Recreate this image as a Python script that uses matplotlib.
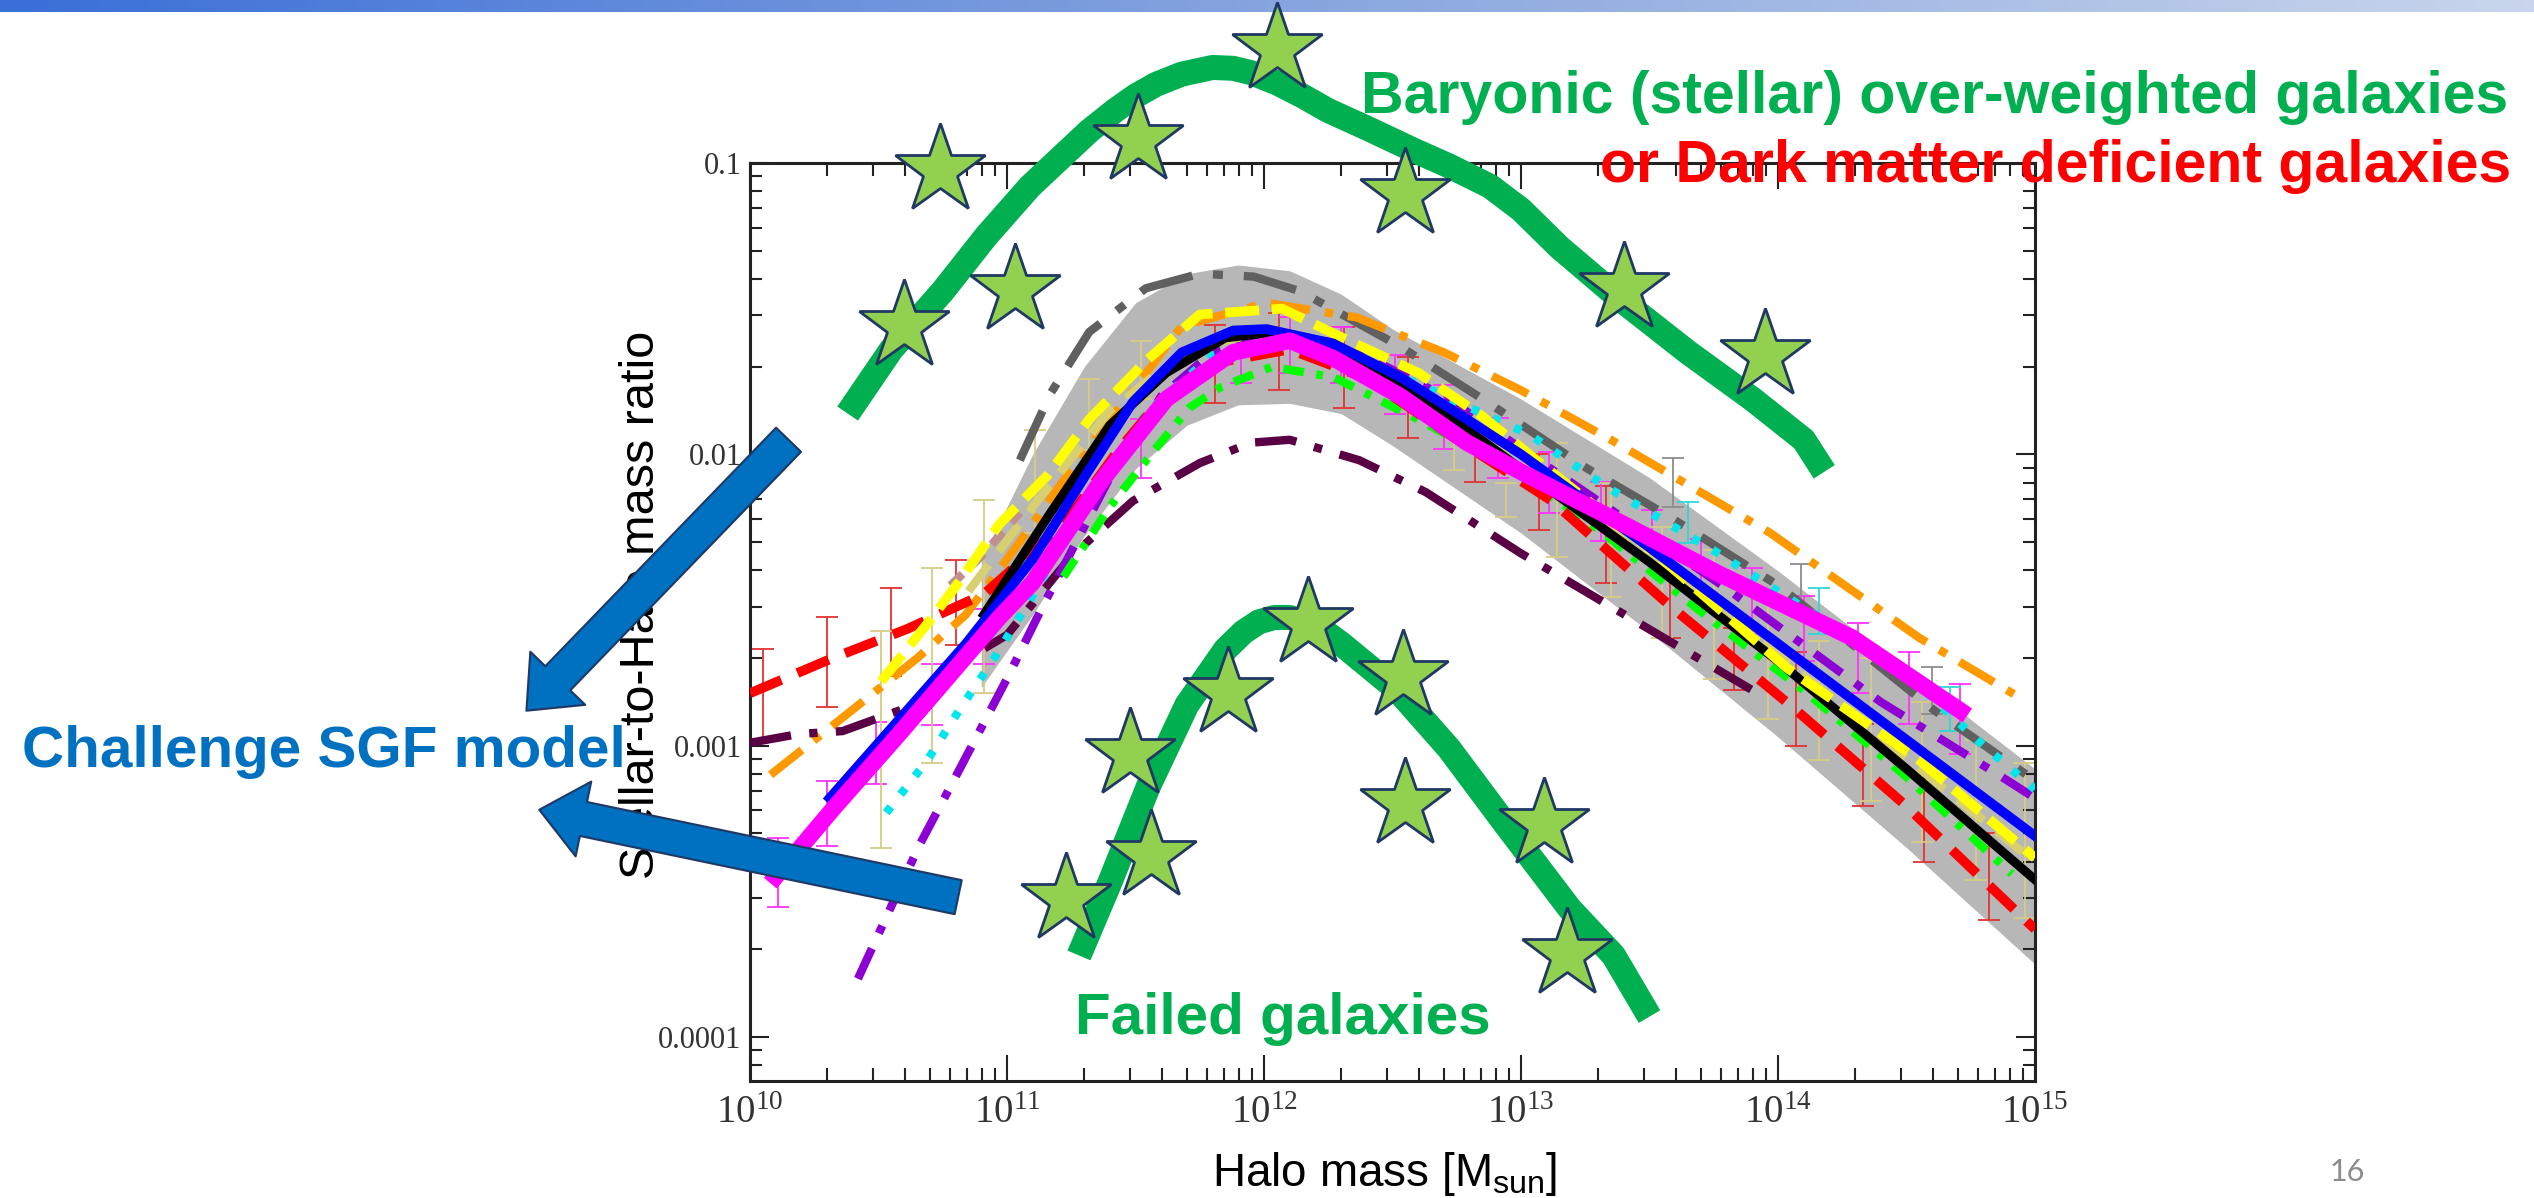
import numpy as np
import matplotlib
matplotlib.use("Agg")
import matplotlib.pyplot as plt
from matplotlib.colors import LinearSegmentedColormap
from matplotlib.ticker import LogLocator, NullFormatter

plt.rcParams['font.family'] = ['Liberation Sans', 'DejaVu Sans']

# all curves: log10(halo mass / Msun) vs log10(stellar-to-halo mass ratio)
band_logm = [10.9, 11.1, 11.3, 11.5, 11.7, 11.9, 12.1, 12.3, 12.5, 12.75, 13.0, 13.5, 14.0, 14.5, 15.0]
band_hi = [-2.36, -2.0, -1.70, -1.48, -1.38, -1.35, -1.37, -1.45, -1.57, -1.69, -1.81, -2.08, -2.40, -2.74, -3.08]
band_lo = [-2.80, -2.55, -2.28, -2.05, -1.90, -1.83, -1.825, -1.86, -1.97, -2.12, -2.27, -2.61, -2.97, -3.35, -3.75]

gray_logm = [11.05, 11.17, 11.32, 11.54, 11.75, 11.96, 12.14, 12.53, 12.85, 13.26, 13.57, 14.0, 14.3, 14.61, 15.0]
gray_logr = [-2.02, -1.79, -1.58, -1.43, -1.38, -1.39, -1.44, -1.63, -1.81, -2.05, -2.21, -2.45, -2.66, -2.88, -3.12]

orange_logm = [10.08, 10.38, 10.65, 10.84, 11.05, 11.26, 11.49, 11.68, 12.01, 12.36, 12.70, 13.0, 13.35, 13.97, 14.55, 14.95]
orange_logr = [-3.10, -2.89, -2.70, -2.55, -2.30, -2.04, -1.78, -1.56, -1.48, -1.53, -1.65, -1.78, -1.95, -2.27, -2.63, -2.84]

yellow_logm = [10.51, 10.70, 10.82, 10.97, 11.16, 11.32, 11.54, 11.75, 12.07, 12.33, 12.6, 12.85, 13.06, 13.55, 14.03, 14.55, 15.0]
yellow_logr = [-2.78, -2.57, -2.43, -2.24, -2.07, -1.88, -1.68, -1.52, -1.50, -1.61, -1.72, -1.87, -2.02, -2.36, -2.73, -3.05, -3.385]

khaki_logm = [10.85, 11.1, 11.4, 11.7, 12.0, 12.4, 12.8, 13.3, 13.8, 14.3, 15.0]
khaki_logr = [-2.47, -2.18, -1.85, -1.64, -1.58, -1.68, -1.90, -2.22, -2.55, -2.90, -3.40]

rosy_logm = [10.78, 10.9, 11.05]
rosy_logr = [-2.45, -2.35, -2.20]

red_logm = [10.0, 10.32, 10.61, 10.91, 11.23, 11.43, 11.6, 11.85, 12.1, 12.4, 12.7, 13.12, 13.58, 14.06, 14.49, 15.0]
red_logr = [-2.82, -2.70, -2.60, -2.48, -2.23, -1.99, -1.81, -1.68, -1.64, -1.74, -1.92, -2.16, -2.52, -2.87, -3.20, -3.63]

black_logm = [10.91, 11.17, 11.4, 11.62, 11.85, 12.05, 12.3, 12.6, 13.0, 13.5, 14.0, 14.5, 15.0]
black_logr = [-2.55, -2.20, -1.90, -1.72, -1.60, -1.58, -1.64, -1.79, -2.05, -2.37, -2.71, -3.08, -3.46]

blue_logm = [10.31, 10.58, 10.84, 11.10, 11.30, 11.49, 11.68, 11.88, 12.01, 12.27, 12.53, 12.79, 13.0, 13.5, 14.0, 14.5, 15.0]
blue_logr = [-3.18, -2.91, -2.65, -2.36, -2.08, -1.82, -1.65, -1.575, -1.57, -1.62, -1.735, -1.88, -2.0, -2.32, -2.65, -2.98, -3.31]

magenta_logm = [10.1, 10.32, 10.58, 10.97, 11.10, 11.36, 11.62, 11.88, 12.10, 12.27, 12.53, 12.79, 13.0, 13.4, 13.77, 14.29, 14.71]
magenta_logr = [-3.45, -3.22, -2.96, -2.56, -2.44, -2.10, -1.81, -1.65, -1.61, -1.67, -1.80, -1.96, -2.06, -2.24, -2.41, -2.63, -2.88]

maroon_logm = [10.0, 10.19, 10.36, 10.61, 10.79, 11.0, 11.25, 11.49, 11.75, 11.95, 12.1, 12.37, 12.63, 13.0, 13.46, 13.92]
maroon_logr = [-2.99, -2.96, -2.95, -2.87, -2.73, -2.62, -2.35, -2.16, -2.03, -1.96, -1.95, -2.02, -2.13, -2.34, -2.58, -2.82]

purple_logm = [10.42, 10.66, 10.81, 11.0, 11.14, 11.4, 11.6, 11.8, 12.0, 12.3, 12.7, 13.2, 13.8, 14.4, 14.84, 15.0]
purple_logr = [-3.80, -3.34, -3.09, -2.77, -2.52, -2.08, -1.80, -1.65, -1.58, -1.62, -1.80, -2.10, -2.46, -2.85, -3.09, -3.18]

cyan_logm = [10.53, 10.69, 10.82, 10.95, 11.09, 11.3, 11.55, 11.8, 12.05, 12.4, 12.8, 13.03, 13.33, 13.75, 14.16, 14.47, 14.8, 15.0]
cyan_logr = [-3.23, -3.05, -2.87, -2.70, -2.50, -2.17, -1.85, -1.66, -1.60, -1.68, -1.84, -1.93, -2.11, -2.33, -2.56, -2.73, -3.0, -3.15]

lime_logm = [11.22, 11.40, 11.56, 11.71, 11.83, 12.03, 12.27, 12.6, 13.0, 13.32, 13.70, 14.1, 14.49, 14.91]
lime_logr = [-2.42, -2.18, -2.0, -1.84, -1.77, -1.70, -1.735, -1.88, -2.07, -2.27, -2.54, -2.81, -3.10, -3.44]

# observational error bars (lower / upper ends)
red_eb_logm = [10.05, 10.30, 10.55, 10.80, 11.81, 12.06, 12.31, 12.56, 12.82, 13.07, 13.33, 13.58, 13.83, 14.07, 14.33, 14.57, 14.82]
red_eb_lo = [-2.983, -2.866, -2.76, -2.656, -1.825, -1.78, -1.84, -1.945, -2.096, -2.26, -2.44, -2.63, -2.81, -3.0, -3.206, -3.40, -3.60]
red_eb_hi = [-2.667, -2.56, -2.46, -2.364, -1.557, -1.515, -1.564, -1.667, -1.918, -2.0, -2.11, -2.40, -2.595, -2.68, -2.925, -3.11, -3.30]

mag_eb_logm = [10.11, 10.30, 10.49, 10.71, 10.91, 11.52, 11.91, 12.10, 12.30, 12.51, 12.70, 12.91, 13.11, 13.31, 13.51, 13.70, 13.90, 14.10, 14.31, 14.51, 14.71]
mag_eb_lo = [-3.553, -3.343, -3.13, -2.93, -2.72, -2.08, -1.756, -1.72, -1.756, -1.86, -1.98, -2.08, -2.2, -2.296, -2.364, -2.467, -2.615, -2.708, -2.82, -2.924, -3.03]
mag_eb_hi = [-3.316, -3.12, -2.92, -2.72, -2.53, -1.88, -1.567, -1.53, -1.564, -1.66, -1.763, -1.876, -1.993, -2.096, -2.19, -2.29, -2.39, -2.485, -2.58, -2.68, -2.787]

khaki_eb_logm = [10.51, 10.71, 10.91, 11.11, 11.32, 11.52, 12.74, 12.94, 13.14, 13.35, 13.55, 13.75, 13.96, 14.16, 14.36, 14.56, 14.77, 14.96]
khaki_eb_lo = [-3.35, -3.06, -2.82, -2.27, -1.986, -1.81, -2.055, -2.216, -2.354, -2.49, -2.63, -2.77, -2.91, -3.05, -3.19, -3.33, -3.46, -3.59]
khaki_eb_hi = [-2.605, -2.39, -2.158, -1.917, -1.74, -1.61, -1.93, -2.10, -1.96, -2.10, -2.25, -2.33, -2.49, -2.64, -2.70, -2.85, -2.98, -3.06]

gray_eb_logm = [13.59, 14.09, 14.6]
gray_eb_lo = [-2.18, -2.56, -2.89]
gray_eb_hi = [-2.014, -2.375, -2.73]

cyan_eb_logm = [13.65, 14.16, 14.67]
cyan_eb_lo = [-2.306, -2.615, -2.95]
cyan_eb_hi = [-2.165, -2.46, -2.80]

# hand-drawn trend strokes and star symbols
upper_arc_logm = [10.38, 10.55, 10.75, 10.92, 11.09, 11.32, 11.42, 11.5, 11.58, 11.68, 11.8, 11.88, 11.95,
                  12.05, 12.15, 12.25, 12.4, 12.58, 12.72, 12.88, 13.0, 13.15, 13.39, 13.65, 13.90, 14.10, 14.18]
upper_arc_logr = [-1.86, -1.64, -1.44, -1.25, -1.08, -0.89, -0.82, -0.77, -0.73, -0.695, -0.672, -0.675, -0.69,
                  -0.725, -0.77, -0.82, -0.88, -0.955, -1.01, -1.08, -1.16, -1.29, -1.47, -1.65, -1.81, -1.95, -2.06]

lower_arc_logm = [11.28, 11.40, 11.55, 11.70, 11.85, 11.92, 11.98, 12.04, 12.10, 12.16, 12.23, 12.30,
                  12.52, 12.72, 12.94, 13.19, 13.36, 13.50]
lower_arc_logr = [-3.72, -3.47, -3.14, -2.86, -2.67, -2.61, -2.575, -2.56, -2.56, -2.575, -2.605, -2.65,
                  -2.81, -3.01, -3.27, -3.56, -3.72, -3.93]

star_logm = [12.05, 11.51, 10.74, 11.03, 10.60, 12.55, 13.40, 13.95,
             12.17, 12.54, 11.86, 11.48, 11.56, 11.23, 12.55, 13.09, 13.18]
star_logr = [-0.61, -0.92, -1.024, -1.435, -1.56, -1.107, -1.43, -1.66,
             -2.58, -2.76, -2.82, -3.03, -3.38, -3.526, -3.20, -3.27, -3.715]

arrow_tail_logm = [10.15, 10.81]
arrow_tail_logr = [-1.95, -3.52]
arrow_tip_logm = [9.13, 9.18]
arrow_tip_logr = [-2.88, -3.22]

xtick_exps = [10, 11, 12, 13, 14, 15]
ytick_vals = [1e-4, 1e-3, 1e-2, 1e-1]
ytick_labels = ['0.0001', '0.001', '0.01', '0.1']


def p(v):
    return 10.0 ** np.asarray(v)


W, H = 2534, 1198
fig = plt.figure(figsize=(W / 100, H / 100), dpi=100)

# slide header strip
bar = fig.add_axes([0, 1 - 12 / H, 1, 12 / H], zorder=0)
cmap = LinearSegmentedColormap.from_list('strip', ['#3a6fd8', '#86a4de', '#c8d5ec'])
bar.imshow(np.linspace(0, 1, 256)[None, :], aspect='auto', cmap=cmap, extent=[0, 1, 0, 1])
bar.axis('off')

ax = fig.add_axes([750 / W, 1 - 1081 / H, 1285 / W, 918 / H], zorder=1)
ax.set_xscale('log')
ax.set_yscale('log')

ax.fill_between(p(band_logm), p(band_lo), p(band_hi), color='#b7b7b7', lw=0, zorder=1)

for xs, lo, hi, col in [(red_eb_logm, red_eb_lo, red_eb_hi, '#e03333'),
                        (mag_eb_logm, mag_eb_lo, mag_eb_hi, '#ff33ff'),
                        (khaki_eb_logm, khaki_eb_lo, khaki_eb_hi, '#d6cd85'),
                        (gray_eb_logm, gray_eb_lo, gray_eb_hi, '#8c8c8c'),
                        (cyan_eb_logm, cyan_eb_lo, cyan_eb_hi, '#33d6d6')]:
    mid = np.sqrt(p(lo) * p(hi))
    ax.errorbar(p(xs), mid, yerr=[mid - p(lo), p(hi) - mid], fmt='none',
                ecolor=col, elinewidth=1.3, capsize=8, capthick=1.3, zorder=2)

lines = [
    (gray_logm, gray_logr, '#606060', 6, (6.5, 2.5, 1.2, 2.5)),
    (orange_logm, orange_logr, '#ff9900', 6, (4.8, 1.8, 1.0, 1.8)),
    (maroon_logm, maroon_logr, '#5a0045', 6, (5, 2.2, 1, 2.2)),
    (purple_logm, purple_logr, '#8c00d4', 6, (4, 2, 1, 2)),
    (cyan_logm, cyan_logr, '#00e5ee', 6, (0.9, 1.9)),
    (khaki_logm, khaki_logr, '#d8d070', 6, (4, 2)),
    (rosy_logm, rosy_logr, '#c09090', 6, (2, 1.5)),
    (lime_logm, lime_logr, '#00ff00', 6, (2.5, 1.5, 0.8, 1.5)),
    (red_logm, red_logr, '#ff0000', 7, (3.5, 1.8)),
    (black_logm, black_logr, '#000000', 6.5, None),
    (yellow_logm, yellow_logr, '#ffff00', 7, (3.5, 1.3)),
    (blue_logm, blue_logr, '#0000ff', 7, None),
    (magenta_logm, magenta_logr, '#ff00ff', 12, None),
]
for i, (xs, ys, col, lw, dash) in enumerate(lines):
    ln, = ax.plot(p(xs), p(ys), color=col, lw=lw, zorder=3 + i * 0.1,
                  solid_joinstyle='round')
    if dash is not None:
        ln.set_dashes(dash)

ax.set_xlim(1e10, 1e15)
ax.set_ylim(10 ** -4.151, 0.1)
ax.set_xticks(p(xtick_exps), [rf'$\mathregular{{10^{{{e}}}}}$' for e in xtick_exps])
ax.set_yticks(ytick_vals, ytick_labels)
ax.xaxis.set_minor_locator(LogLocator(base=10, subs=np.arange(2, 10)))
ax.yaxis.set_minor_locator(LogLocator(base=10, subs=np.arange(2, 10)))
ax.xaxis.set_minor_formatter(NullFormatter())
ax.yaxis.set_minor_formatter(NullFormatter())
ax.tick_params(which='both', direction='in', top=True, right=True, width=1.5,
               color='#222222', labelcolor='#333333', labelfontfamily='Liberation Serif')
ax.tick_params(axis='x', which='major', length=19, labelsize=28, pad=10)
ax.tick_params(axis='x', which='minor', length=9.5)
ax.tick_params(axis='y', which='major', length=14, labelsize=22, pad=6)
ax.tick_params(axis='y', which='minor', length=8.5)
for s in ax.spines.values():
    s.set_linewidth(2.2)
    s.set_color('#222222')

ax.set_ylabel('Stellar-to-Halo mass ratio', fontsize=35)
ax.yaxis.set_label_coords(-0.067, 0.519)
ax.set_xlabel(r'Halo mass [M$_{\mathregular{sun}}$]', fontsize=33)
ax.xaxis.set_label_coords(0.494, -0.075)

# overlaid sketch: trend strokes, stars, arrows
for xs, ys in [(upper_arc_logm, upper_arc_logr), (lower_arc_logm, lower_arc_logr)]:
    ax.plot(p(xs), p(ys), color='#00b050', lw=18, solid_capstyle='butt',
            solid_joinstyle='round', clip_on=False, zorder=11)
ax.plot(p(star_logm), p(star_logr), ls='none', marker='*', ms=68, mfc='#92d050',
        mec='#1f3864', mew=2, clip_on=False, zorder=12)
for tx, ty, hx, hy in zip(arrow_tail_logm, arrow_tail_logr, arrow_tip_logm, arrow_tip_logr):
    ax.annotate('', xy=(10 ** hx, 10 ** hy), xytext=(10 ** tx, 10 ** ty),
                annotation_clip=False, zorder=13,
                arrowprops=dict(arrowstyle='simple,head_length=1.3,head_width=2.2,tail_width=1.0',
                                mutation_scale=25, fc='#0070c0', ec='#1f3864', lw=1.5,
                                shrinkA=0, shrinkB=0))

fig.text(2508 / W, 1 - 113 / H, 'Baryonic (stellar) over-weighted galaxies', ha='right',
         va='baseline', fontsize=42.5, fontweight='bold', color='#00b050')
fig.text(2511 / W, 1 - 182 / H, 'or Dark matter deficient galaxies', ha='right',
         va='baseline', fontsize=42.5, fontweight='bold', color='#ff0000')
fig.text(22 / W, 1 - 767 / H, 'Challenge SGF model', ha='left', va='baseline',
         fontsize=42, fontweight='bold', color='#0070c0')
fig.text(1075 / W, 1 - 1034 / H, 'Failed galaxies', ha='left', va='baseline',
         fontsize=42, fontweight='bold', color='#00b050')
fig.text(2347 / W, 1 - 1172 / H, '16', ha='center', va='center', fontsize=22,
         color='#8c8c8c', family=['Lato', 'DejaVu Sans'])

fig.savefig('out.png', dpi=100, facecolor='white')
